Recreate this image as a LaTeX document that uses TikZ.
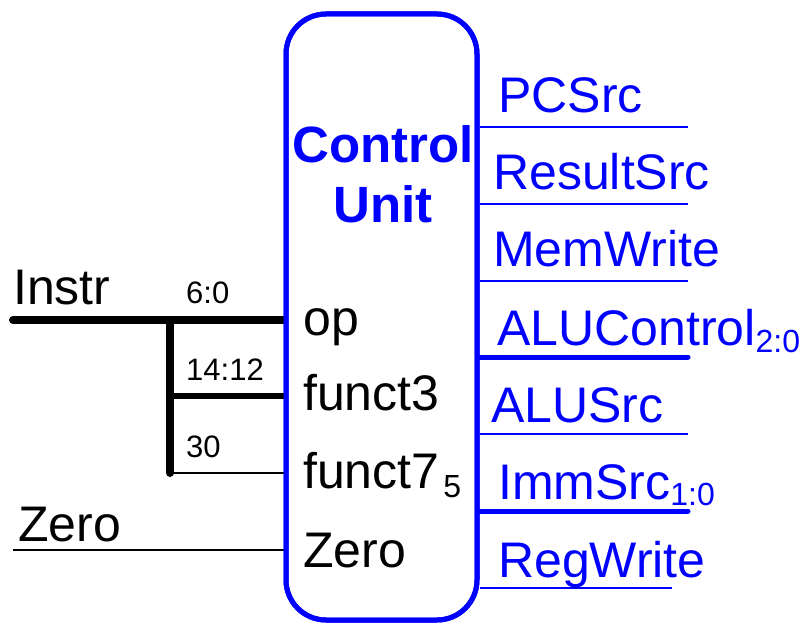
\documentclass[tikz,border=0pt]{standalone}
\usepackage{fontspec}
\setmainfont{Liberation Sans}
\newcommand{\subidx}[2]{\raisebox{-#1pt}{\fontsize{32}{34}\selectfont #2}}
\begin{document}
\begin{tikzpicture}[x=1pt,y=-1pt,
  biglbl/.style={anchor=base west,inner sep=0pt,font=\fontsize{50}{60}\selectfont},
  outlbl/.style={biglbl,text=blue},
  bitlbl/.style={anchor=base west,inner sep=0pt,font=\fontsize{31}{34}\selectfont},
  thinwire/.style={black,line width=2pt},
  thickwire/.style={black,line width=8pt,line cap=round},
  sigwire/.style={blue,line width=2pt},
  buswire/.style={blue,line width=5pt,line cap=round},
  unitbox/.style={draw=blue,line width=5pt,rounded corners=40pt,rectangle,
    minimum width=191pt,minimum height=606pt,inner sep=0pt}]
\useasboundingbox (0,0) rectangle (811,628);

% control unit body
\node[unitbox] (cu) at (381.5,317) {};
\node[inner sep=0pt,align=center,text=blue,
  font=\fontsize{51}{60}\selectfont\bfseries] (title) at (383,174) {Control\\Unit};

% instruction bus and its bit fields
\coordinate (instrL) at (13,320);
\coordinate (tapTop) at (170,320);
\coordinate (tapMid) at (170,396);
\coordinate (tapBot) at (170,473);
\draw[thinwire] (tapBot) -- (tapBot -| cu.west);
\draw[black,line width=6pt] (tapMid) -- (tapMid -| cu.west);
\draw[thickwire] (tapTop) -- (tapBot);
\draw[thickwire] (instrL) -- (tapTop);
\draw[black,line width=8pt] (tapTop) -- (tapTop -| cu.west);
\node[biglbl] (instr) at (13,305) {Instr};
\node[bitlbl] (b60) at (186,303) {6:0};
\node[bitlbl] (b1412) at (186,380) {14:12};
\node[bitlbl] (b30) at (186,457) {30};

% zero flag input
\coordinate (zeroL) at (13,550);
\draw[thinwire] (zeroL) -- (zeroL -| cu.west);
\node[biglbl] (zeroin) at (18,541) {Zero};

% input port names
\node[biglbl] (op) at (303,335) {op};
\node[biglbl] (f3) at (303,410) {funct3};
\node[biglbl] (f7) at (303,488) {funct7\hspace{4pt}\subidx{9}{5}};
\node[biglbl] (zp) at (303,567) {Zero};

% control outputs
\coordinate (o1) at (688,127);
\coordinate (o2) at (688,204);
\coordinate (o3) at (688,281);
\coordinate (o4) at (688,357);
\coordinate (o5) at (688,434);
\coordinate (o6) at (688,511);
\coordinate (o7) at (672,588);
\draw[sigwire] (o1 -| cu.east) -- (o1);
\draw[sigwire] (o2 -| cu.east) -- (o2);
\draw[sigwire] (o3 -| cu.east) -- (o3);
\draw[buswire] (o4 -| cu.east) -- (o4);
\draw[sigwire] (o5 -| cu.east) -- (o5);
\draw[buswire] (o6 -| cu.east) -- (o6);
\draw[sigwire] (o7 -| cu.east) -- (o7);

\node[outlbl] (pcsrc) at (498,113) {PCSrc};
\node[outlbl] (ressrc) at (493,190) {ResultSrc};
\node[outlbl] (memw) at (493,267) {MemWrite};
\node[outlbl] (aluc) at (497,345) {ALUControl\subidx{7}{2:0}};
\node[outlbl] (alusrc) at (491,422) {ALUSrc};
\node[outlbl] (imm) at (498,499) {ImmSrc\subidx{6}{1:0}};
\node[outlbl] (regw) at (498,577) {RegWrite};

% redraw the body outline over the wire ends
\node[unitbox] at (cu.center) {};
\end{tikzpicture}
\end{document}
